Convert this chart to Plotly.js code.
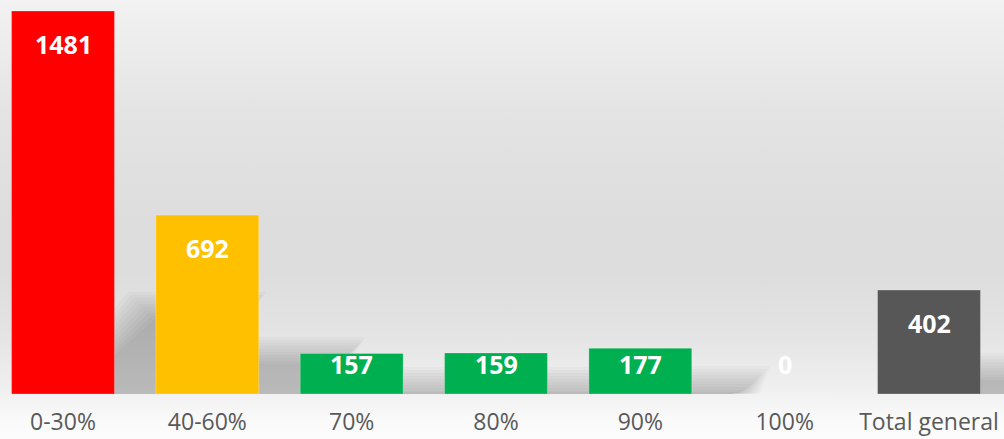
<!DOCTYPE html>
<html>
<head>
<meta charset="utf-8">
<script src="https://cdn.plot.ly/plotly-3.0.1.min.js"></script>
<style>
  html, body { margin: 0; padding: 0; }
  body {
    width: 1004px; height: 439px; overflow: hidden;
    background: linear-gradient(to bottom, #f2f2f2 0%, #e4e4e4 25%, #dddddd 50%, #dddddd 62%, #e3e3e3 75%, #efefef 88%, #fafafa 96%, #fcfcfc 100%);
  }
  #chart { width: 1004px; height: 439px; }
</style>
</head>
<body>
<div id="chart"></div>
<script>
// ---- data ----
const categories = ["0-30%", "40-60%", "70%", "80%", "90%", "100%", "Total general"];
const values = [1481, 692, 157, 159, 177, 0, 402];
const barColors = ["#ff0000", "#ffc000", "#00b050", "#00b050", "#00b050", "#00b050", "#575757"];

// ---- layout geometry ----
const W = 1004, H = 439;
const margin = { l: 0, r: 0, t: 0, b: 45 };
const xRange = [-0.4365, 6.5196];
const yRange = [0, 1523.5];
const plotW = W - margin.l - margin.r;
const plotH = H - margin.t - margin.b;
const pxPerX = plotW / (xRange[1] - xRange[0]);
const pxPerY = plotH / (yRange[1] - yRange[0]);
const bargap = 0.287;
const halfBar = (1 - bargap) / 2;

const idx = categories.map((_, i) => i);

// shadows (perspective shadow emulation, blurred by layering)
const shapes = [];
const offPx = 50, shear = 0.22;
const blurLayers = 10;
values.forEach((v, i) => {
  if (v <= 0) return;
  const hPx = v * pxPerY;
  const sh = shear * hPx;
  for (let k = 0; k < blurLayers; k++) {
    const e = (k - 3) * 3; // expansion in px
    const x0 = i - halfBar + (offPx - e) / pxPerX;
    const x1 = i + halfBar + (offPx + e) / pxPerX;
    const sx = sh / pxPerX;
    const yTop = Math.max(sh + e, 2) / pxPerY;
    const p = `M ${x0} 0 L ${x1} 0 L ${x1 + sx} ${yTop} L ${x0 + sx} ${yTop} Z`;
    shapes.push({
      type: "path", xref: "x", yref: "y", path: p, layer: "below",
      fillcolor: "rgba(0,0,0,0.022)", line: { width: 0 }
    });
  }
});

// value labels
const annotations = values.map((v, i) => {
  const topPx = v * pxPerY;
  const labPx = Math.max(topPx - 33, 30);
  return {
    x: i, y: labPx / pxPerY, xref: "x", yref: "y",
    text: String(v), showarrow: false, yanchor: "middle",
    font: { family: "Open Sans", size: 25, color: "#ffffff", weight: "bold" }
  };
});

const trace = {
  type: "bar",
  x: idx,
  y: values,
  marker: { color: barColors, line: { width: 1, color: "rgba(255,255,255,0.25)" } },
  hoverinfo: "skip"
};

const layout = {
  width: W, height: H,
  margin: margin,
  paper_bgcolor: "rgba(0,0,0,0)",
  plot_bgcolor: "rgba(0,0,0,0)",
  bargap: bargap,
  showlegend: false,
  xaxis: {
    type: "linear", range: xRange,
    tickmode: "array", tickvals: idx, ticktext: categories,
    showgrid: false, zeroline: false, showline: false, ticks: "",
    tickfont: { family: "Open Sans", size: 23, color: "#595959" },
    ticklabelstandoff: 12
  },
  yaxis: {
    range: yRange, visible: false, showgrid: false, zeroline: false
  },
  shapes: shapes,
  annotations: annotations
};

Plotly.newPlot("chart", [trace], layout, { staticPlot: true, displayModeBar: false });
</script>
</body>
</html>
